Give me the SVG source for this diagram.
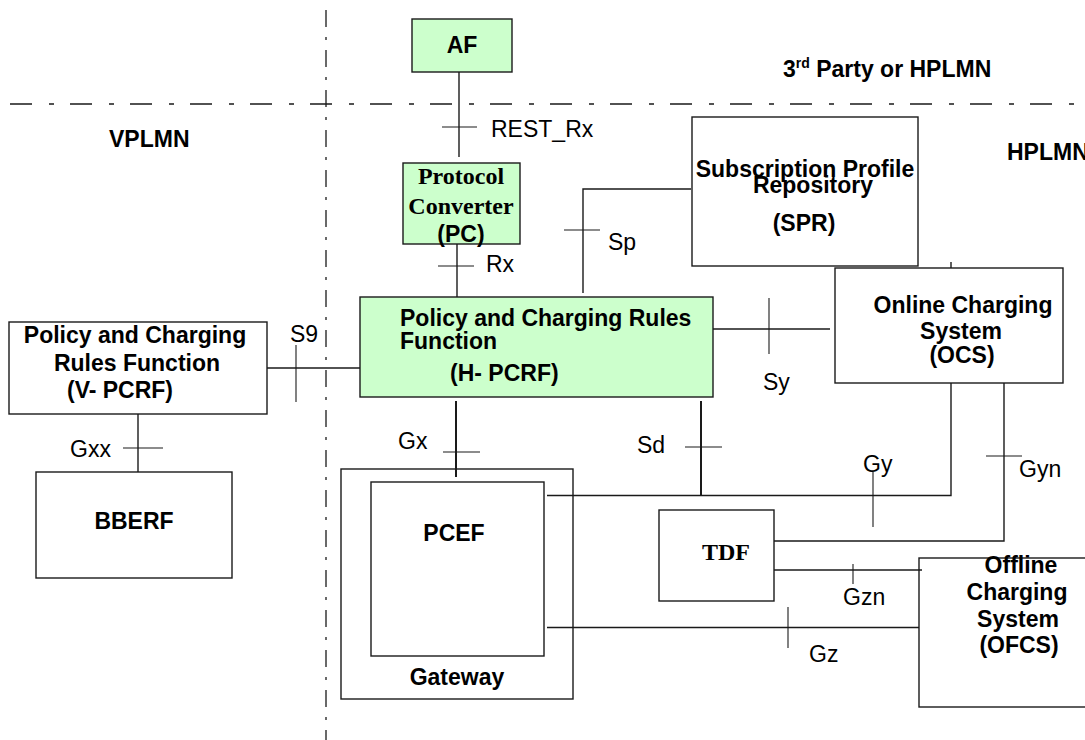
<svg xmlns="http://www.w3.org/2000/svg" width="1085" height="740" viewBox="0 0 1085 740">
<style>
.box{fill:#fff;stroke:#1a1a1a;stroke-width:1.4}
.green{fill:#ccffcc;stroke:#1a1a1a;stroke-width:1.4}
.ln{fill:none;stroke:#1a1a1a;stroke-width:1.4}
.thk{fill:none;stroke:#1a1a1a;stroke-width:2}
.tk{fill:none;stroke:#1a1a1a;stroke-width:1.1}
.b{font-family:"Liberation Sans",Arial,sans-serif;font-weight:bold;font-size:23px;fill:#000}
.r{font-family:"Liberation Sans",Arial,sans-serif;font-size:23px;fill:#000}
.s{font-family:"Liberation Serif","Times New Roman",serif;font-weight:bold;font-size:24px;fill:#000}
.m{text-anchor:middle}
.div{fill:none;stroke:#1a1a1a;stroke-width:1.3}
</style>
<rect width="1085" height="740" fill="#fff"/>
<g id="boundaries">
<line class="div" x1="10" y1="104" x2="1085" y2="104" stroke-dasharray="22,17,5,16"/>
<line class="div" x1="326" y1="10" x2="326" y2="740" stroke-dasharray="17,10,3,10"/>
<text class="b" x="109" y="147">VPLMN</text>
<text class="b" x="783" y="77">3<tspan font-size="14" dy="-9">rd</tspan><tspan dy="9"> Party or HPLMN</tspan></text>
<text class="b" x="1007" y="160">HPLMN</text>
</g>
<g id="af">
<rect class="green" x="412" y="19" width="100" height="53"/>
<text class="b m" x="462" y="53">AF</text>
</g>
<g id="pc">
<rect class="green" x="403" y="163" width="117" height="81"/>
<text class="s m" x="461" y="184">Protocol</text>
<text class="s m" x="461" y="214">Converter</text>
<text class="b m" x="461" y="242">(PC)</text>
</g>
<g id="spr">
<rect class="box" x="692" y="117" width="226" height="149"/>
<text class="b m" x="805" y="177">Subscription Profile</text>
<text class="b m" x="813" y="193">Repository</text>
<text class="b m" x="804" y="231">(SPR)</text>
</g>
<g id="hpcrf">
<rect class="green" x="360" y="297" width="353" height="100"/>
<text class="b" x="400" y="326">Policy and Charging Rules</text>
<text class="b" x="400" y="349">Function</text>
<text class="b" x="450" y="381">(H- PCRF)</text>
</g>
<g id="ocs">
<rect class="box" x="835" y="268" width="228" height="115"/>
<text class="b m" x="963" y="313">Online Charging</text>
<text class="b m" x="961" y="339">System</text>
<text class="b m" x="962" y="363">(OCS)</text>
</g>
<g id="vpcrf">
<rect class="box" x="9" y="322" width="258" height="92"/>
<text class="b m" x="135" y="343">Policy and Charging</text>
<text class="b m" x="137" y="371">Rules Function</text>
<text class="b m" x="120" y="398">(V- PCRF)</text>
</g>
<g id="bberf">
<rect class="box" x="36" y="472" width="196" height="106"/>
<text class="b m" x="134" y="529">BBERF</text>
</g>
<g id="gateway">
<rect class="box" x="341" y="469" width="232" height="230"/>
<text class="b m" x="457" y="685">Gateway</text>
</g>
<g id="pcef">
<rect class="box" x="371" y="482" width="173" height="174"/>
<text class="b m" x="454" y="541">PCEF</text>
</g>
<g id="tdf">
<rect class="box" x="659" y="510" width="115" height="91"/>
<text class="s m" x="726" y="560">TDF</text>
</g>
<g id="ofcs">
<rect class="box" x="919" y="558" width="180" height="149"/>
<text class="b m" x="1021" y="573">Offline</text>
<text class="b m" x="1017" y="600">Charging</text>
<text class="b m" x="1018" y="627">System</text>
<text class="b m" x="1019" y="653">(OFCS)</text>
</g>
<g id="connectors">
<line class="ln" x1="459" y1="72" x2="459" y2="157"/>
<line class="tk" x1="442" y1="127" x2="477" y2="127"/>
<text class="r" x="491" y="137">REST_Rx</text>
<line class="ln" x1="457" y1="244" x2="457" y2="297"/>
<line class="tk" x1="438" y1="266" x2="474" y2="266"/>
<text class="r" x="486" y="272">Rx</text>
<polyline class="ln" points="583,293 583,189 691,189"/>
<line class="tk" x1="564" y1="230" x2="600" y2="230"/>
<text class="r" x="608" y="250">Sp</text>
<line class="ln" x1="951" y1="262" x2="951" y2="268"/>
<line class="ln" x1="713" y1="329" x2="830" y2="329"/>
<line class="tk" x1="769" y1="298" x2="769" y2="354"/>
<text class="r" x="763" y="390">Sy</text>
<line class="ln" x1="267" y1="368" x2="360" y2="368"/>
<line class="tk" x1="296" y1="345" x2="296" y2="402"/>
<text class="r" x="290" y="342">S9</text>
<line class="ln" x1="138" y1="414" x2="138" y2="472"/>
<line class="tk" x1="123" y1="448" x2="163" y2="448"/>
<text class="r" x="70" y="457">Gxx</text>
<line class="thk" x1="456" y1="401" x2="456" y2="477"/>
<line class="tk" x1="443" y1="452" x2="480" y2="452"/>
<text class="r" x="398" y="449">Gx</text>
<line class="thk" x1="701" y1="401" x2="701" y2="496"/>
<line class="tk" x1="685" y1="447" x2="722" y2="447"/>
<text class="r" x="637" y="453">Sd</text>
<polyline class="ln" points="547,495.5 951,495.5 951,383"/>
<line class="tk" x1="873" y1="472" x2="873" y2="527"/>
<text class="r" x="863" y="472">Gy</text>
<polyline class="ln" points="774,541 1004,541 1004,383"/>
<line class="tk" x1="986" y1="456" x2="1022" y2="456"/>
<text class="r" x="1019" y="477">Gyn</text>
<line class="ln" x1="774" y1="570" x2="922" y2="570"/>
<line class="tk" x1="853" y1="564" x2="853" y2="584"/>
<text class="r" x="843" y="605">Gzn</text>
<line class="ln" x1="547" y1="627.5" x2="919" y2="627.5"/>
<line class="tk" x1="788" y1="607" x2="788" y2="648"/>
<text class="r" x="809" y="662">Gz</text>
</g>
</svg>
